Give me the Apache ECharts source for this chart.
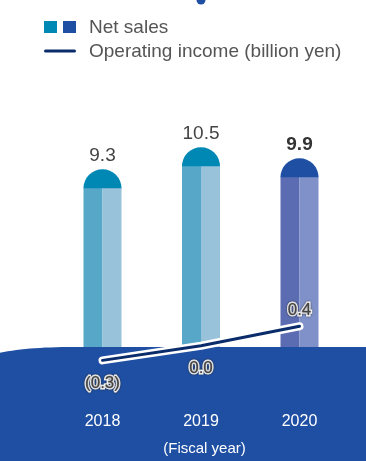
<!DOCTYPE html>
<html>
<head>
<meta charset="utf-8">
<script src="https://cdn.jsdelivr.net/npm/echarts@6/dist/echarts.min.js"></script>
<style>
  html, body { margin: 0; padding: 0; background: #fff; }
  #chart { width: 366px; height: 461px; }
</style>
</head>
<body>
<div id="chart"></div>
<script>
// Fiscal years and results
const years = ['2018', '2019', '2020'];
const netSales = [9.3, 10.5, 9.9];            // billion yen
const operatingIncome = [-0.3, 0.0, 0.4];     // billion yen

const FONT = '"Liberation Sans", Arial, Helvetica, sans-serif';
// bar palettes: [cap, left half, right half]
const pastPalette = ['#0088b4', '#57a7c8', '#98c2da'];
const latestPalette = ['#1f4fa3', '#5b6cb2', '#8091ca'];
const BAR_HALF = 19;

function fmtIncome(v) {
  return v < 0 ? '(' + Math.abs(v).toFixed(1) + ')' : v.toFixed(1);
}

// outline of the ground band: soft rise on the left, flat across
function groundOutline() {
  const pts = [];
  const p0 = [0, 352.7], c = [30, 346.6], p1 = [80, 347];
  for (let k = 0; k <= 16; k++) {
    const t = k / 16, u = 1 - t;
    pts.push([u * u * p0[0] + 2 * u * t * c[0] + t * t * p1[0],
              u * u * p0[1] + 2 * u * t * c[1] + t * t * p1[1]]);
  }
  pts.push([366, 347], [366, 461], [0, 461]);
  return pts;
}

const chart = echarts.init(document.getElementById('chart'));

chart.setOption({
  animation: false,
  grid: { left: 53.25, right: 17.25, top: 101.2, bottom: 66.5 },
  xAxis: {
    type: 'category',
    data: years,
    z: 8,
    axisLine: { show: false },
    axisTick: { show: false },
    axisLabel: { color: '#fff', fontSize: 16, fontFamily: FONT, margin: 21 },
    name: '(Fiscal year)',
    nameLocation: 'middle',
    nameGap: 48,
    nameTextStyle: { color: '#fff', fontSize: 15, fontFamily: FONT, padding: [0, 0, 0, 7] }
  },
  yAxis: [
    { type: 'value', min: -3, max: 13, show: false },
    { type: 'value', min: -0.97, max: 5.02, show: false }
  ],
  series: [
    {
      // net sales: split-tone column with a round cap, value at the top of the cap
      type: 'custom',
      z: 2,
      yAxisIndex: 0,
      data: netSales.map((v, i) => [i, v]),
      renderItem(params, api) {
        const i = api.value(0);
        const v = api.value(1);
        const top = api.coord([i, v]);
        const cs = params.coordSys;
        const base = cs.y + cs.height;
        const cx = top[0];
        const capY = top[1] + BAR_HALF;
        const latest = i === years.length - 1;
        const pal = latest ? latestPalette : pastPalette;
        return {
          type: 'group',
          children: [
            { type: 'rect', shape: { x: cx - BAR_HALF, y: capY, width: BAR_HALF, height: base - capY }, style: { fill: pal[1] } },
            { type: 'rect', shape: { x: cx, y: capY, width: BAR_HALF, height: base - capY }, style: { fill: pal[2] } },
            { type: 'sector', shape: { cx: cx, cy: capY + 0.5, r: BAR_HALF, r0: 0, startAngle: Math.PI, endAngle: Math.PI * 2 }, style: { fill: pal[0] } },
            {
              type: 'text',
              style: {
                text: v.toFixed(1), x: cx, y: top[1] - 13,
                align: 'center', verticalAlign: 'middle',
                fill: latest ? '#333' : '#444',
                font: (latest ? 'bold ' : '') + '19px ' + FONT
              }
            }
          ]
        };
      }
    },
    {
      // white halo under the income line
      type: 'line',
      yAxisIndex: 1,
      z: 9,
      silent: true,
      symbol: 'none',
      data: operatingIncome,
      lineStyle: { color: '#fff', width: 8, cap: 'round' }
    },
    {
      type: 'line',
      yAxisIndex: 1,
      z: 10,
      symbol: 'circle',
      symbolSize: 0.1,
      itemStyle: { color: 'rgba(0,0,0,0)' },
      data: operatingIncome.map(v => ({
        value: v,
        label: { position: v > 0 ? 'top' : 'bottom', distance: v > 0 ? 7 : 14 }
      })),
      lineStyle: { color: '#0b2c6b', width: 3, cap: 'round' },
      label: {
        show: true,
        formatter: p => fmtIncome(p.value),
        color: '#444',
        fontSize: 17,
        fontFamily: FONT,
        textBorderColor: '#fff',
        textBorderWidth: 3,
        textShadowColor: 'rgba(40,40,40,0.85)',
        textShadowBlur: 2
      }
    }
  ],
  graphic: [
    { type: 'circle', z: 1, shape: { cx: 201, cy: 0, r: 4.5 }, style: { fill: '#1f4fa3' } },
    { type: 'rect', z: 1, shape: { x: 44, y: 21, width: 13, height: 12 }, style: { fill: '#0088b4' } },
    { type: 'rect', z: 1, shape: { x: 63, y: 21, width: 13, height: 12 }, style: { fill: '#1f4fa3' } },
    { type: 'line', z: 1, shape: { x1: 45.5, y1: 51, x2: 74.5, y2: 51 }, style: { stroke: '#0b2c6b', lineWidth: 3, lineCap: 'round' } },
    { type: 'text', z: 1, x: 89, y: 28, style: { text: 'Net sales', fill: '#555', font: '19px ' + FONT, verticalAlign: 'middle' } },
    { type: 'text', z: 1, x: 89, y: 52, style: { text: 'Operating income (billion yen)', fill: '#555', font: '19px ' + FONT, verticalAlign: 'middle' } },
    // ground band behind the year labels
    { type: 'polygon', z: 5, shape: { points: groundOutline() }, style: { fill: '#1f4fa2' } }
  ]
});
</script>
</body>
</html>
